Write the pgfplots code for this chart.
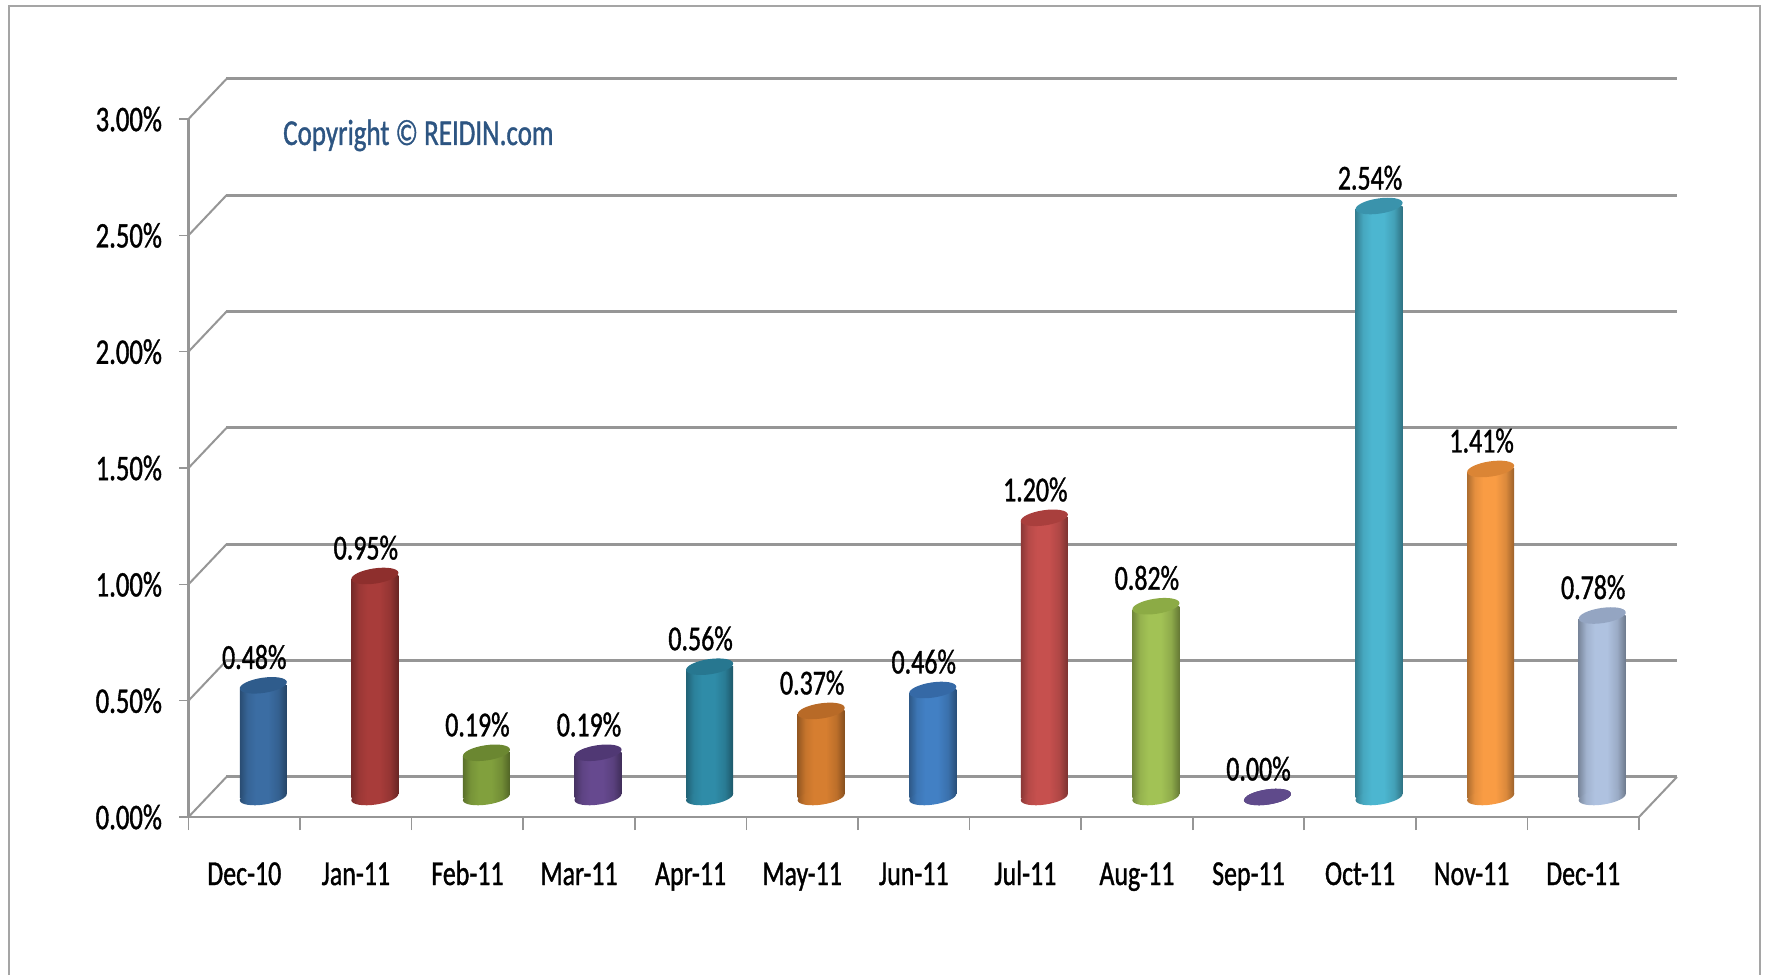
\documentclass[border=0pt]{standalone}
\usepackage{pgfplots}
\pgfplotsset{compat=1.18}
\usepackage{fontspec}
\setmainfont{Carlito}[FakeStretch=0.74,FakeBold=1]

\definecolor{GridGray}{RGB}{150,150,150}
\definecolor{FrameGray}{RGB}{165,165,165}
\definecolor{CopyBlue}{RGB}{45,85,130}

% tilted ellipse used for the ends of the cylinders
\newcommand{\cylpath}{\pgfpathellipse{\pgfpointorigin}{\pgfqpoint{23.5pt}{3.5pt}}{\pgfqpoint{-1.2pt}{7.5pt}}}
\pgfdeclareplotmark{cylend}{\cylpath\pgfusepathqfill}
% the square corners of a bar that an ellipse does not cover
\pgfdeclareplotmark{topmask}{%
  \pgfpathrectanglecorners{\pgfqpoint{-24.5pt}{-3.4pt}}{\pgfqpoint{-2pt}{1pt}}\pgfusepathqfill}
\pgfdeclareplotmark{basemask}{%
  \pgfpathrectanglecorners{\pgfqpoint{2pt}{-1pt}}{\pgfqpoint{24.5pt}{3.4pt}}\pgfusepathqfill}

\newcommand{\cyl}[3]{%
  \definecolor{c#1}{HTML}{#2}%
  \definecolor{t#1}{HTML}{#3}%
  \pgfdeclarehorizontalshading{s#1}{100bp}{%
    color(0bp)=(c#1!70!black); color(25bp)=(c#1!70!black);
    color(33bp)=(c#1!92!black); color(42bp)=(c#1); color(55bp)=(c#1);
    color(66bp)=(c#1!88!black); color(75bp)=(c#1!62!black); color(100bp)=(c#1!62!black)}%
  \pgfdeclareplotmark{base#1}{\cylpath\pgfshadepath{s#1}{0}\pgfusepath{discard}}%
}
\cyl{A}{3B6DA3}{2F5C8C}
\cyl{B}{A83C3A}{8E2F2D}
\cyl{C}{81A03D}{6B8731}
\cyl{D}{66498F}{503874}
\cyl{E}{2F8CA8}{277790}
\cyl{F}{D67E30}{B86A27}
\cyl{G}{4280C4}{3569A6}
\cyl{H}{C6504E}{A93F3D}
\cyl{I}{A2C255}{8CAB45}
\cyl{J}{5F4A8B}{5F4A8B}
\cyl{K}{4CB6D0}{3A93AC}
\cyl{L}{F99C44}{DB8535}
\cyl{M}{AFC2E0}{94A5C2}

\newcommand{\cylbar}[3]{%
  \addplot[ybar, bar width=47pt, bar shift=0pt, draw=none, shade, shading=s#1, forget plot] coordinates {(#2,#3)};
  \addplot[only marks, mark=basemask, mark options={fill=white}, forget plot] coordinates {(#2,0)};
  \addplot[only marks, mark=base#1, forget plot] coordinates {(#2,0)};
  \addplot[only marks, mark=topmask, mark options={fill=white}, forget plot] coordinates {(#2,#3)};
  \addplot[only marks, mark=cylend, mark options={fill=t#1}, forget plot,
    nodes near coords={\pgfmathprintnumber{\pgfplotspointmeta}\%},
    point meta=y,
    every node near coord/.append style={anchor=south, inner sep=0pt, xshift=-9pt, yshift=16pt,
      font=\fontsize{35}{40}\selectfont, text=black}] coordinates {(#2,#3)};
}

\begin{document}
\begin{tikzpicture}[x=1pt,y=1pt]
\path[use as bounding box] (0,0) rectangle (1769,975);
\draw[FrameGray, line width=2.5pt] (9,0) -- (9,969) -- (1760,969) -- (1760,0);

% frame, walls and category labels
\begin{axis}[
  at={(188.5pt,158pt)}, anchor=origin,
  scale only axis, width=1450.5pt, height=698pt,
  xmin=0, xmax=13, ymin=0, ymax=3,
  clip=false,
  unbounded coords=jump,
  axis lines=left,
  axis line style={GridGray, line width=2.2pt, -},
  tick align=outside,
  every tick/.style={GridGray, line width=1.6pt},
  major tick length=9pt,
  minor tick length=13pt,
  xtick={0.5,1.5,2.5,3.5,4.5,5.5,6.5,7.5,8.5,9.5,10.5,11.5,12.5},
  x tick style={draw=none},
  minor x tick style={GridGray, line width=1.6pt, draw=GridGray},
  minor xtick={0,1,2,3,4,5,6,7,8,9,10,11,12,13},
  xticklabels={Dec-10,Jan-11,Feb-11,Mar-11,Apr-11,May-11,Jun-11,Jul-11,Aug-11,Sep-11,Oct-11,Nov-11,Dec-11},
  ytick={0,0.5,1,1.5,2,2.5,3},
  scaled y ticks=false,
  yticklabel={\pgfmathprintnumber{\tick}\%},
  /pgf/number format/.cd, fixed, fixed zerofill, precision=2, assume math mode=true,
  /pgfplots/.cd,
  tick label style={font=\fontsize{35}{40}\selectfont, text=black},
  xticklabel style={anchor=base, yshift=-59pt},
  yticklabel style={anchor=east, xshift=-14pt, font=\fontsize{36}{40}\selectfont},
]
% back wall
\addplot[GridGray, line width=3pt, forget plot] coordinates {
  (0.34,0.172) (13.34,0.172) (0,nan)
  (0.34,0.672) (13.34,0.672) (0,nan)
  (0.34,1.172) (13.34,1.172) (0,nan)
  (0.34,1.672) (13.34,1.672) (0,nan)
  (0.34,2.172) (13.34,2.172) (0,nan)
  (0.34,2.672) (13.34,2.672) (0,nan)
  (0.34,3.172) (13.34,3.172)
};
% side wall and floor edge
\addplot[GridGray, line width=2pt, forget plot] coordinates {
  (0,0) (0.34,0.172) (0,nan)
  (0,0.5) (0.34,0.672) (0,nan)
  (0,1) (0.34,1.172) (0,nan)
  (0,1.5) (0.34,1.672) (0,nan)
  (0,2) (0.34,2.172) (0,nan)
  (0,2.5) (0.34,2.672) (0,nan)
  (0,3) (0.34,3.172) (0,nan)
  (13,0) (13.34,0.172)
};
\end{axis}

% cylinders, pushed half the depth into the floor
\begin{axis}[
  at={(207.5pt,178pt)}, anchor=origin,
  scale only axis, width=1450.5pt, height=698pt,
  xmin=0, xmax=13, ymin=0, ymax=3,
  clip=false, hide axis,
  /pgf/number format/.cd, fixed, fixed zerofill, precision=2, assume math mode=true,
]
\cylbar{A}{0.5}{0.48}
\cylbar{B}{1.5}{0.95}
\cylbar{C}{2.5}{0.19}
\cylbar{D}{3.5}{0.19}
\cylbar{E}{4.5}{0.56}
\cylbar{F}{5.5}{0.37}
\cylbar{G}{6.5}{0.46}
\cylbar{H}{7.5}{1.20}
\cylbar{I}{8.5}{0.82}
\cylbar{J}{9.5}{0.00}
\cylbar{K}{10.5}{2.54}
\cylbar{L}{11.5}{1.41}
\cylbar{M}{12.5}{0.78}
\end{axis}

\node[anchor=base west, inner sep=0pt, text=CopyBlue, font=\fontsize{36.5}{40}\selectfont] at (283,830) {Copyright © REIDIN.com};
\end{tikzpicture}
\end{document}
